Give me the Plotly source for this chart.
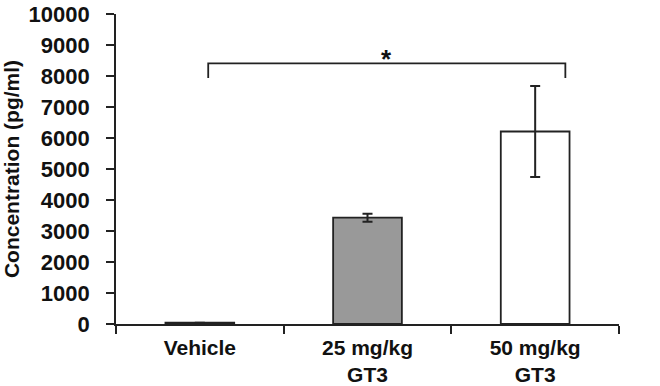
import plotly.graph_objects as go

categories = ["Vehicle", "25 mg/kg<br>GT3", "50 mg/kg<br>GT3"]
values = [40, 3430, 6210]
errors = [0, 130, 1470]
colors = ["#222222", "#999999", "#ffffff"]
y_ticks = list(range(0, 10001, 1000))
y_ticktext = [str(v) for v in y_ticks]
bracket_x = [0.05, 2.18]
bracket_y_top = 8410
bracket_y_leg = 7935
star_y = 8560

fig = go.Figure()
fig.add_trace(go.Bar(
    x=categories, y=values,
    marker=dict(color=colors, line=dict(color="#222222", width=1.8)),
    width=0.41,
    error_y=dict(type="data", array=errors, visible=True, color="#222222",
                 thickness=2, width=5),
    showlegend=False,
))

x0, x1 = bracket_x
fig.add_shape(type="path",
              path=f"M {x0} {bracket_y_leg} L {x0} {bracket_y_top} L {x1} {bracket_y_top} L {x1} {bracket_y_leg}",
              xref="x", yref="y", line=dict(color="#222222", width=1.8))
fig.add_annotation(x=(x0 + x1) / 2, y=star_y, text="*", showarrow=False,
                   xref="x", yref="y", yanchor="middle",
                   font=dict(size=26, color="#111111", family="Liberation Sans, Arial", weight="bold"))

font = dict(family="Liberation Sans, Arial, sans-serif", size=21, color="#111111", weight="bold")
fig.update_layout(
    width=660, height=386,
    margin=dict(l=116, r=41, t=14, b=62),
    plot_bgcolor="white", paper_bgcolor="white",
    font=font,
)
fig.update_xaxes(
    type="category", range=[-0.5, 2.5], automargin=False,
    showline=True, linecolor="#222222", linewidth=1.8,
    ticks="outside", tickson="boundaries", ticklen=8, tickwidth=1.8, tickcolor="#222222",
    tickfont=font, ticklabelstandoff=4, showgrid=False, zeroline=False,
)
fig.update_yaxes(
    range=[0, 10000], tickvals=y_ticks, ticktext=y_ticktext, automargin=False,
    showline=True, linecolor="#222222", linewidth=1.8,
    ticks="outside", ticklen=8, tickwidth=1.8, tickcolor="#222222",
    tickfont=dict(font, size=22), ticklabelstandoff=12,
    showgrid=False, zeroline=False,
    title=dict(text="Concentration (pg/ml)", font=dict(font, size=21), standoff=4),
)

fig.write_html("out.html", config={"displayModeBar": False},
               post_script="document.body.style.margin='0';document.body.style.padding='0';")
